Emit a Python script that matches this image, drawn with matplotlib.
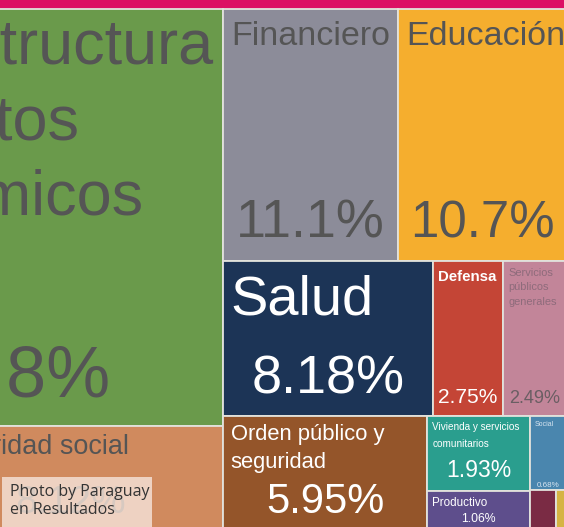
import matplotlib.pyplot as plt
from matplotlib.patches import Rectangle

# budget share by function (%)
keys = ["infra", "otros", "segsoc", "fin", "edu", "salud", "def", "serv",
        "orden", "viv", "prod", "social", "cyt", "amb"]
labels = ["Infraestructura\nproyectos\neconómicos", "Otros", "Seguridad social",
          "Financiero", "Educación", "Salud", "Defensa",
          "Servicios\npúblicos\ngenerales", "Orden público y\nseguridad",
          "Vivienda y servicios\ncomunitarios", "Productivo", "Social",
          "Ciencia y tecnología", "Ambiente"]
values = [44.8, 3.3, 8.12, 11.1, 10.7, 8.18, 2.75, 2.49, 5.95, 1.93, 1.06, 0.68, 0.27, 0.12]
colors = ["#6a9a4b", "#b3a06a", "#d08a5e", "#8c8c99", "#f5ae2e", "#1c3456",
          "#c44536", "#c28599", "#94552a", "#2a9e8e", "#5e4e8c", "#4a86ae",
          "#7a2b44", "#d6b443"]

val = dict(zip(keys, values))

# nesting of the treemap: 'h' splits into columns, 'v' into rows
tree = ("h", [
    ("v", ["infra", ("h", ["otros", "segsoc"])]),
    ("v", [
        ("h", ["fin", "edu"]),
        ("h", ["salud", "def", "serv"]),
        ("h", ["orden", ("h", [("v", ["viv", "prod"]),
                               ("v", ["social", ("h", ["cyt", "amb"])])])]),
    ]),
])


def node_sum(node):
    if isinstance(node, str):
        return val[node]
    return sum(node_sum(k) for k in node[1])


def layout(node, x0, y0, x1, y1, out):
    if isinstance(node, str):
        out[node] = (x0, y0, x1, y1)
        return
    orient, kids = node
    total = node_sum(node)
    pos = x0 if orient == "h" else y0
    for k in kids:
        frac = node_sum(k) / total
        if orient == "h":
            w = (x1 - x0) * frac
            layout(k, pos, y0, pos + w, y1, out)
        else:
            w = (y1 - y0) * frac
            layout(k, x0, pos, x1, pos + w, out)
        pos += w


# label styles: name px, pct px, name color, pct color, left pad, top pad,
# bottom pad, linespacing, name weight
GRAY = "#555555"
styles = {
    "infra":  (63, 72, GRAY, GRAY, 12, 9, 29, 1.36, "normal"),
    "segsoc": (27, 39, GRAY, GRAY, 10, 8, 19, 1.2, "normal"),
    "fin":    (34, 54, GRAY, GRAY, 8, 12, 24, 1.2, "normal"),
    "edu":    (34, 51, GRAY, GRAY, 8, 12, 24, 1.2, "normal"),
    "salud":  (56, 54, "white", "white", 8, 13, 23, 1.2, "normal"),
    "def":    (15, 21, "white", "white", 5, 9, 13, 1.2, "bold"),
    "serv":   (11, 18, "#8e6b7b", "#6a5e63", 5, 7, 13, 1.55, "normal"),
    "orden":  (22, 41.6, "white", "white", 8, 8, 19, 1.43, "normal"),
    "viv":    (10, 23, "white", "white", 5, 6, 14, 1.8, "normal"),
    "social": (7, 8, "#d6e4f0", "#d6e4f0", 4, 5, 3, 1.2, "normal"),
    "prod":   (11.6, 12.3, "white", "white", 5, 6, 10, 1.2, "normal"),
}

PX = 0.72  # points per pixel at dpi 100
plt.rcParams["font.family"] = ["Liberation Sans", "DejaVu Sans"]

fig = plt.figure(figsize=(5.64, 5.27), dpi=100)
ax = fig.add_axes([0, 0, 1, 1])
ax.set_xlim(0, 564)
ax.set_ylim(527, 0)
ax.axis("off")

# header band
ax.add_patch(Rectangle((0, 0), 564, 9, fc="#dc0f64", ec="none"))

rects = {}
layout(tree, -205, 9, 567, 532, rects)

for k, lab, c in zip(keys, labels, colors):
    x0, y0, x1, y1 = rects[k]
    box = Rectangle((x0, y0), x1 - x0, y1 - y0, fc=c, ec="#e2e2dc", lw=1.3)
    ax.add_patch(box)
    if k not in styles:
        continue
    nfs, pfs, nc, pc, padx, padt, padb, ls, wt = styles[k]
    t1 = ax.text(x0 + padx, y0 + padt, lab, fontsize=nfs * PX, color=nc,
                 ha="left", va="top", linespacing=ls, fontweight=wt)
    t2 = ax.text((x0 + x1) / 2, y1 - padb, f"{val[k]:.3g}%", fontsize=pfs * PX,
                 color=pc, ha="center", va="baseline")
    t1.set_clip_path(box)
    t2.set_clip_path(box)

# photo credit overlay
ax.add_patch(Rectangle((2, 477), 150, 52, fc="#f5e3d9", ec="none", alpha=0.82, zorder=5))
ax.text(10, 484, "Photo by Paraguay\nen Resultados", fontsize=11.5, color="#333333",
        family=["Open Sans", "DejaVu Sans"], ha="left", va="top", linespacing=1.15,
        zorder=6)

fig.savefig("out.png", dpi=100)
